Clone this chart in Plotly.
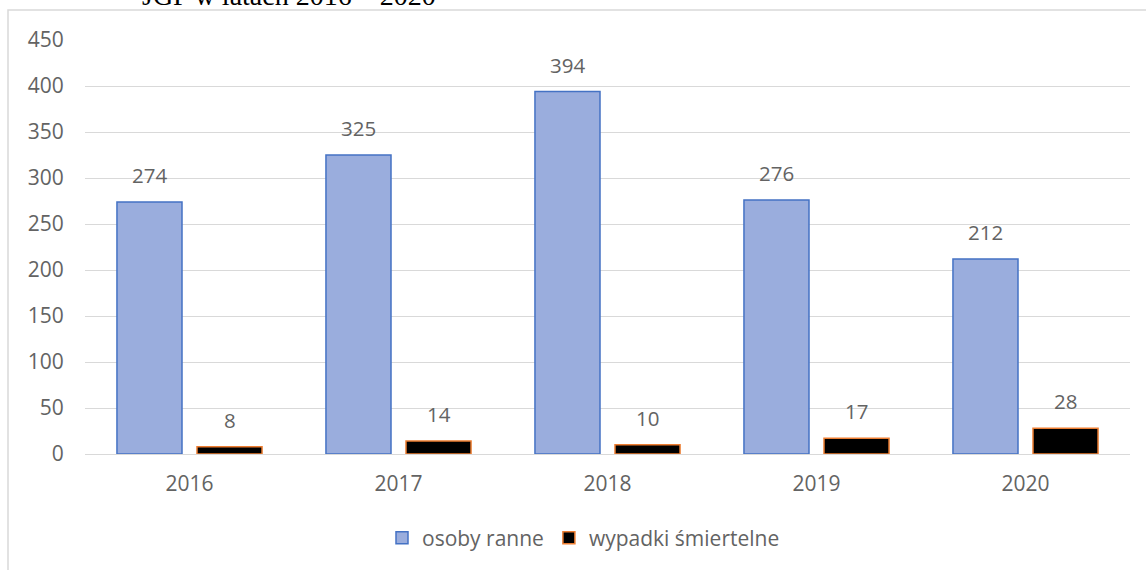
import plotly.graph_objects as go

years = ["2016", "2017", "2018", "2019", "2020"]
injured = [274, 325, 394, 276, 212]
fatal = [8, 14, 10, 17, 28]
names = ["osoby ranne", "wypadki śmiertelne"]
title_text = "JGP w latach 2016 – 2020"

FONT = "Open Sans"
GRAY = "#636363"
FS = 21

fig = go.Figure()
fig.add_trace(go.Bar(
    x=years, y=injured, name=names[0],
    marker=dict(color="#9AADDD", line=dict(color="#4472C4", width=1.5)),
))
fig.add_trace(go.Bar(
    x=years, y=fatal, name=names[1],
    marker=dict(color="#000000", line=dict(color="#ED7D31", width=1.5)),
))

annotations = []
for i, yr in enumerate(years):
    annotations.append(dict(x=i, y=injured[i], xref="x", yref="y", text=str(injured[i]),
                            showarrow=False, xshift=-40, yshift=27, yanchor="middle",
                            font=dict(family=FONT, size=20.5, color=GRAY)))
    annotations.append(dict(x=i, y=fatal[i], xref="x", yref="y", text=str(fatal[i]),
                            showarrow=False, xshift=40, yshift=27, yanchor="middle",
                            font=dict(family=FONT, size=20.5, color=GRAY)))
annotations.append(dict(x=(140 - 85) / 1045, y=1.065, xref="paper", yref="paper",
                        text=title_text, showarrow=False, xanchor="left", yanchor="bottom",
                        font=dict(family="Liberation Serif", size=28, color="#000000")))

fig.update_layout(
    width=1146, height=570,
    margin=dict(l=85, r=16, t=40, b=116),
    paper_bgcolor="white", plot_bgcolor="white",
    barmode="group", bargap=0.234, bargroupgap=0.1875,
    font=dict(family=FONT, size=FS, color=GRAY),
    showlegend=True,
    legend=dict(orientation="h", x=(382 - 85) / 1045, y=-0.203, xanchor="left", yanchor="middle",
                font=dict(family=FONT, size=FS, color=GRAY), traceorder="normal",
                itemwidth=30),
    annotations=annotations,
    shapes=[dict(type="rect", xref="paper", yref="paper",
                 x0=(8 - 85) / 1045, x1=1.2, y0=-0.6, y1=(454 - 10) / 414,
                 line=dict(color="#D9D9D9", width=1.5), fillcolor="rgba(0,0,0,0)", layer="below")],
)
fig.update_xaxes(type="category", range=[-0.5, len(years) - 0.5], showgrid=False,
                 showline=True, linecolor="#D9D9D9", linewidth=1,
                 ticks="outside", ticklen=11, tickcolor="rgba(0,0,0,0)",
                 tickfont=dict(family=FONT, size=FS, color=GRAY))
fig.update_yaxes(range=[0, 450], dtick=50, showgrid=True, gridcolor="#D9D9D9", gridwidth=1,
                 zeroline=False, showline=False, ticks="outside", ticklen=16,
                 tickcolor="rgba(0,0,0,0)",
                 tickfont=dict(family=FONT, size=FS, color=GRAY))

fig.write_html("out.html", config={"displayModeBar": False},
               post_script="document.body.style.margin='0';")
